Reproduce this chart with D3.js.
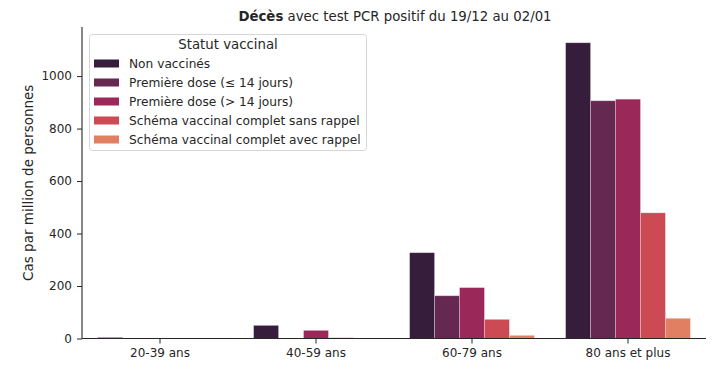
<!DOCTYPE html>
<html><head><meta charset="utf-8">
<script src="https://cdn.jsdelivr.net/npm/d3@7"></script>
<style>body{margin:0;background:#fff}svg{display:block}text{font-family:"DejaVu Sans",sans-serif;fill:#262626}</style>
</head><body><svg id="c" width="717" height="369"></svg>
<script>
const categories = ["20-39 ans", "40-59 ans", "60-79 ans", "80 ans et plus"];
const seriesNames = ["Non vaccinés", "Première dose (≤ 14 jours)", "Première dose (> 14 jours)", "Schéma vaccinal complet sans rappel", "Schéma vaccinal complet avec rappel"];
const nonVaccines = [4, 50, 327, 1127];
const premiereDoseMoins14 = [0, 0, 163, 906];
const premiereDosePlus14 = [0, 31, 194, 912];
const completSansRappel = [0, 3, 73, 479];
const completAvecRappel = [0, 0, 12, 77];
const yTicks = [0, 200, 400, 600, 800, 1000];
const colors = ["#361d3b", "#652850", "#9a2859", "#cb4a53", "#e07f61"];
const series = [nonVaccines, premiereDoseMoins14, premiereDosePlus14, completSansRappel, completAvecRappel];

const svg = d3.select("#c");
const m = {l: 82, r: 706, t: 27, b: 338.5};
const x = d3.scaleBand().domain(categories).range([m.l, m.r]).paddingInner(0.2).paddingOuter(0.1);
const xs = d3.scaleBand().domain(d3.range(seriesNames.length)).range([0, x.bandwidth()]);
const y = d3.scaleLinear().domain([0, 1187]).range([m.b, m.t]);

// bars
series.forEach((vals, si) => {
  svg.append("g").selectAll("rect").data(vals).join("rect")
    .attr("x", (d, i) => x(categories[i]) + xs(si))
    .attr("width", xs.bandwidth())
    .attr("y", d => y(d))
    .attr("height", d => y(0) - y(d))
    .attr("fill", colors[si])
    .attr("stroke", "#fff").attr("stroke-opacity", 0.35).attr("stroke-width", 0.8);
});

// axes
const gx = svg.append("g").attr("transform", `translate(0,${m.b})`)
  .call(d3.axisBottom(x).tickSize(5).tickPadding(5));
gx.select(".domain").attr("d", `M${m.l},0H${m.r}`).attr("stroke", "#262626").attr("stroke-width", 1.1);
gx.selectAll("text").style("font-size", "12px").style("font-family", "DejaVu Sans").attr("fill", "#262626");
gx.selectAll("line").attr("stroke", "#262626");

const gy = svg.append("g").attr("transform", `translate(${m.l},0)`)
  .call(d3.axisLeft(y).tickValues(yTicks).tickFormat(d3.format("d")).tickSize(5).tickPadding(5));
gy.select(".domain").attr("d", `M0,${m.t}V${m.b}`).attr("stroke", "#262626").attr("stroke-width", 1.1);
gy.selectAll("text").style("font-size", "12px").style("font-family", "DejaVu Sans").attr("fill", "#262626");
gy.selectAll("line").attr("stroke", "#262626");

svg.append("text").attr("transform", `translate(33,${(m.t + m.b) / 2}) rotate(-90)`)
  .attr("text-anchor", "middle").style("font-size", "13.5px").text("Cas par million de personnes");

// title
const t = svg.append("text").attr("x", (m.l + m.r) / 2 + 1).attr("y", 21).attr("text-anchor", "middle").style("font-size", "13.3px");
t.append("tspan").attr("font-weight", "bold").text("Décès");
t.append("tspan").text(" avec test PCR positif du 19/12 au 02/01");

// legend
const lg = svg.append("g");
lg.append("rect").attr("x", 89.5).attr("y", 34.5).attr("width", 277).attr("height", 116).attr("rx", 3)
  .attr("fill", "#fff").attr("fill-opacity", 0.8).attr("stroke", "#d6d6d6");
lg.append("text").attr("x", 228).attr("y", 49).attr("text-anchor", "middle").style("font-size", "13.3px").text("Statut vaccinal");
seriesNames.forEach((n, i) => {
  const yy = 63.5 + i * 19;
  lg.append("rect").attr("x", 94).attr("y", yy - 4).attr("width", 25).attr("height", 8).attr("fill", colors[i]);
  lg.append("text").attr("x", 129).attr("y", yy + 4.3).style("font-size", "12.2px").text(n);
});
</script></body></html>
